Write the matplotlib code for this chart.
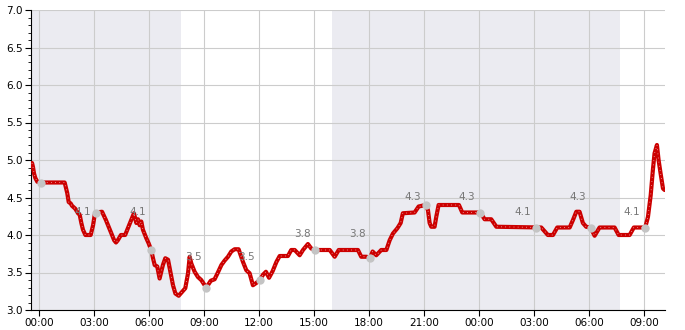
import matplotlib
matplotlib.use("Agg")
import matplotlib.pyplot as plt
from matplotlib.ticker import MultipleLocator, AutoMinorLocator, FuncFormatter

# hours since midnight of day 1
times = [-0.38, -0.33, -0.27, -0.2, -0.09, 0.12, 1.40, 1.54, 1.62, 1.73, 1.8, 1.98,
         2.13, 2.22, 2.31, 2.4, 2.53, 2.82, 2.95, 3.04, 3.1, 3.44, 3.65, 3.9, 4.1,
         4.2, 4.3, 4.47, 4.7, 4.95, 5.18, 5.31, 5.4, 5.49, 5.58, 5.67, 5.85, 5.98,
         6.12, 6.22, 6.31, 6.45, 6.58, 6.67, 6.76, 6.89, 7.04, 7.18, 7.31, 7.44,
         7.62, 7.8, 7.98, 8.13, 8.22, 8.31, 8.49, 8.67, 8.85, 9.04, 9.13, 9.37,
         9.58, 9.76, 9.95, 10.13, 10.31, 10.49, 10.67, 10.89, 11.13, 11.31, 11.49,
         11.67, 11.85, 12.05, 12.22, 12.38, 12.55, 12.75, 12.95, 13.13, 13.58,
         13.76, 13.95, 14.22, 14.4, 14.67, 14.85, 15.08, 15.86, 16.13, 16.35,
         17.4, 17.58, 17.85, 18.07, 18.2, 18.4, 18.67, 18.95, 19.13, 19.31, 19.55,
         19.73, 19.85, 20.49, 20.71, 21.09, 21.22, 21.31, 21.4, 21.58, 21.67, 21.8,
         22.91, 23.09, 23.85, 24.07, 24.31, 24.67, 24.95, 27.09, 27.4, 27.76, 28.04,
         28.27, 28.95, 29.13, 29.31, 29.49, 29.67, 29.85, 30.09, 30.31, 30.58, 31.4,
         31.62, 32.22, 32.45, 33.07, 33.22, 33.37, 33.49, 33.58, 33.71, 33.8, 33.91,
         34.04, 34.13]
values = [4.96, 4.91, 4.82, 4.76, 4.71, 4.70, 4.70, 4.56, 4.44, 4.42, 4.39, 4.35,
          4.29, 4.27, 4.16, 4.07, 4.0, 4.0, 4.13, 4.27, 4.30, 4.31, 4.2, 4.05, 3.93,
          3.9, 3.93, 4.0, 4.0, 4.15, 4.29, 4.16, 4.21, 4.13, 4.18, 4.07, 3.96, 3.89,
          3.80, 3.69, 3.60, 3.58, 3.42, 3.51, 3.6, 3.69, 3.67, 3.49, 3.33, 3.22,
          3.19, 3.24, 3.29, 3.49, 3.71, 3.62, 3.51, 3.44, 3.4, 3.33, 3.30, 3.39,
          3.41, 3.50, 3.60, 3.66, 3.71, 3.78, 3.81, 3.81, 3.64, 3.53, 3.49,
          3.33, 3.36, 3.40, 3.47, 3.51, 3.43, 3.52, 3.64, 3.72, 3.72,
          3.80, 3.80, 3.73, 3.80, 3.88, 3.82, 3.80, 3.80, 3.71, 3.80,
          3.80, 3.71, 3.71, 3.70, 3.78, 3.73, 3.80, 3.80, 3.93, 4.02, 4.09,
          4.16, 4.29, 4.30, 4.38, 4.40, 4.33, 4.16, 4.11, 4.11, 4.24, 4.40,
          4.40, 4.30, 4.30, 4.30, 4.21, 4.21, 4.11, 4.10, 4.10, 4.0, 4.0,
          4.1, 4.1, 4.2, 4.31, 4.31, 4.16, 4.11, 4.10, 3.99, 4.10, 4.10,
          4.0, 4.0, 4.1, 4.10, 4.24, 4.53, 4.87, 5.09, 5.2, 5.0, 4.82,
          4.62, 4.6]

dot_times = [0.12, 3.1, 6.12, 9.13, 12.05, 15.08, 18.07, 21.09, 24.07, 27.09, 30.09, 33.07]
dot_values = [4.70, 4.30, 3.80, 3.30, 3.40, 3.80, 3.70, 4.40, 4.30, 4.10, 4.10, 4.10]

# 3-hour averages, shown left of each dot from the second one on
avg_labels = ["4.1", "4.1", "3.5", "3.5", "3.8", "3.8", "4.3", "4.3", "4.1", "4.3", "4.1"]
avg_values = [4.1, 4.1, 3.5, 3.5, 3.8, 3.8, 4.3, 4.3, 4.1, 4.3, 4.1]

night_start = [-1.0, 16.0]
night_end = [7.75, 31.7]

fig = plt.figure(figsize=(6.85, 3.3), dpi=100)
ax = fig.add_axes([31 / 685, 20 / 330, 634 / 685, 300 / 330])

for s, e in zip(night_start, night_end):
    ax.axvspan(s, e, color="#ebebf1", zorder=0, lw=0)

ax.plot(times, values, color="#cc0000", lw=3.0, solid_capstyle="round",
        solid_joinstyle="round", zorder=3)
ax.plot(times, values, color="white", lw=0.6, ls=(0, (1, 4)), alpha=0.7, zorder=4)
ax.plot(dot_times, dot_values, "o", color="#c4c4c4", ms=6, mec="none", zorder=5)

for t, v, lab in zip(dot_times[1:], avg_values, avg_labels):
    ax.annotate(lab, (t, v), xytext=(-9.5, 11.5), textcoords="offset points",
                ha="center", va="center", fontsize=7.5, color="#777777", zorder=6)

ax.set_xlim(-0.436, 34.15)
ax.set_ylim(3.0, 7.0)
ax.xaxis.set_major_locator(MultipleLocator(3))
ax.xaxis.set_major_formatter(FuncFormatter(lambda x, p: "%02d:00" % (int(round(x)) % 24)))
ax.yaxis.set_major_locator(MultipleLocator(0.5))
ax.yaxis.set_minor_locator(AutoMinorLocator(5))
ax.yaxis.set_major_formatter(FuncFormatter(lambda y, p: "%.1f" % y))

ax.grid(True, which="major", color="#cccccc", lw=0.8, zorder=1)
ax.set_axisbelow(True)
for side in ("top", "right"):
    ax.spines[side].set_visible(False)
for side in ("left", "bottom"):
    ax.spines[side].set_color("black")
    ax.spines[side].set_linewidth(0.8)

ax.tick_params(axis="both", which="major", labelsize=7.5, length=4, width=0.8,
               colors="black", pad=2)
ax.tick_params(axis="y", which="minor", length=2.5, width=0.6)

fig.savefig("out.png", dpi=100)
